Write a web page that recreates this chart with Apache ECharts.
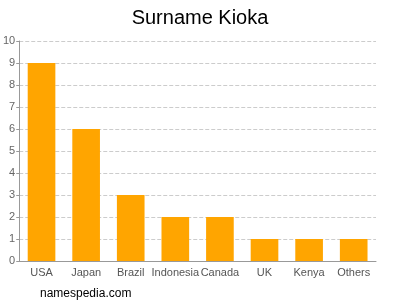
<!DOCTYPE html>
<html>
<head>
<meta charset="utf-8">
<script src="https://cdn.jsdelivr.net/npm/echarts@6/dist/echarts.min.js"></script>
<style>html,body{margin:0;padding:0;background:#fff}#c{width:400px;height:300px}</style>
</head>
<body>
<div id="c"></div>
<script>
var categories = ["USA", "Japan", "Brazil", "Indonesia", "Canada", "UK", "Kenya", "Others"];
var values = [9, 6, 3, 2, 2, 1, 1, 1];
var titleText = "Surname Kioka";
var footerText = "namespedia.com";

var chart = echarts.init(document.getElementById('c'), null, {renderer: 'canvas'});
chart.setOption({
  animation: false,
  title: [{
    text: titleText, left: 'center', top: 3,
    textStyle: {fontFamily: 'Liberation Sans, Arial, sans-serif', fontSize: 20, fontWeight: 'normal', color: '#000'}
  }, {
    text: footerText, left: 35, top: 283,
    textStyle: {fontFamily: 'Liberation Sans, Arial, sans-serif', fontSize: 12, fontWeight: 'normal', color: '#000'}
  }],
  grid: {left: 17, right: 24, top: 41, bottom: 39, containLabel: false},
  xAxis: {
    type: 'category', data: categories,
    axisLine: {show: true, lineStyle: {color: '#999'}},
    axisTick: {show: false},
    axisLabel: {color: '#555', fontSize: 11, fontFamily: 'Liberation Sans, Arial, sans-serif', margin: 6, interval: 0}
  },
  yAxis: {
    type: 'value', min: 0, max: 10, interval: 1,
    axisLine: {show: true, lineStyle: {color: '#999'}},
    axisTick: {show: true, length: 3, lineStyle: {color: '#999'}},
    axisLabel: {color: '#666', fontSize: 11, fontFamily: 'Liberation Sans, Arial, sans-serif', margin: 4},
    splitLine: {show: true, lineStyle: {color: '#ccc', type: 'dashed'}}
  },
  series: [{
    type: 'bar', data: values, barWidth: '62%',
    itemStyle: {color: '#FFA500'}
  }]
});
</script>
</body>
</html>
